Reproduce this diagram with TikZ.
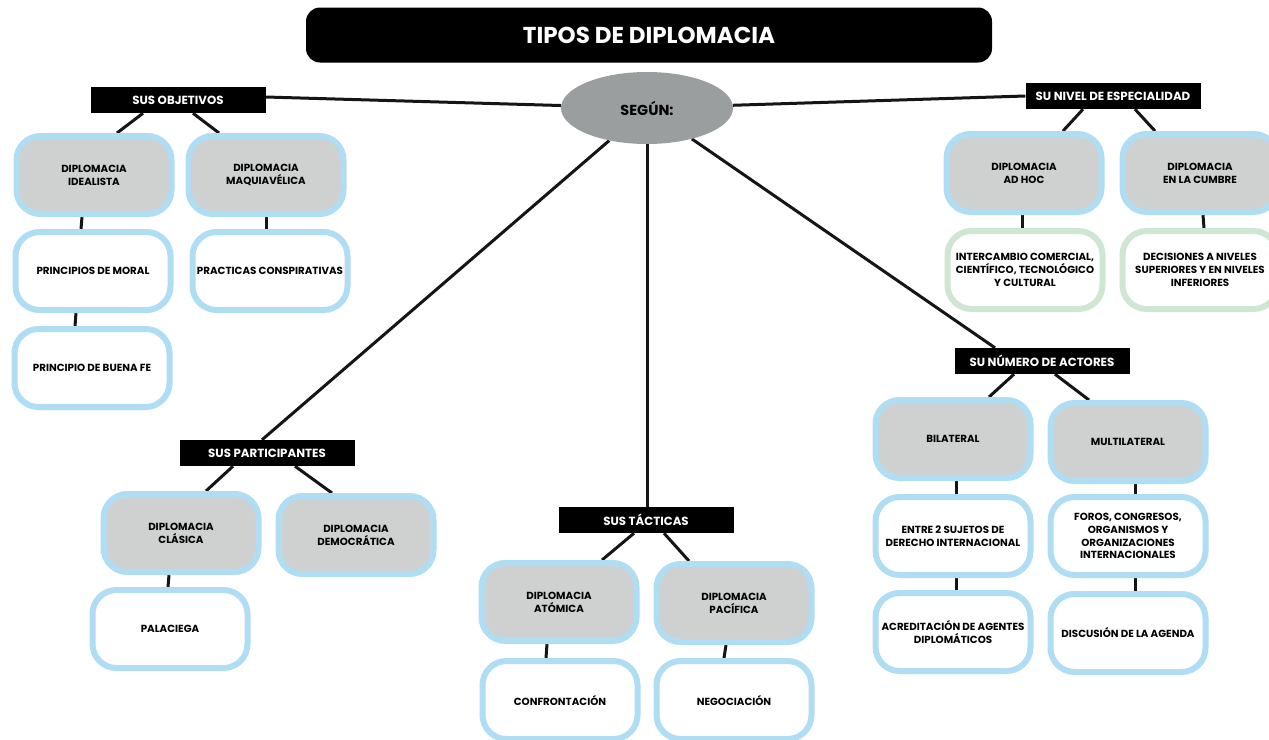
\documentclass[tikz,border=0pt]{standalone}
\usepackage{fontspec}
\setmainfont{Poppins}
\usetikzlibrary{shapes.geometric,backgrounds,calc}

\definecolor{rimblue}{HTML}{AEDDF4}
\definecolor{rimgreen}{HTML}{CFE7D2}
\definecolor{catgray}{HTML}{CFD1D0}
\definecolor{hubgray}{HTML}{9B9E9F}
\definecolor{inkline}{HTML}{151515}

\tikzset{
  titlebar/.style={fill=black, rounded corners=14pt, minimum width=686pt, minimum height=55pt,
    text=white, font=\bfseries\fontsize{23}{27}\selectfont, inner sep=0pt},
  hub/.style={ellipse, fill=hubgray, minimum width=172pt, minimum height=72pt, inner sep=0pt,
    font=\bfseries\fontsize{14.5}{17}\selectfont},
  tag/.style={fill=black, text=white, minimum width=175pt, minimum height=26pt, inner sep=0pt,
    font=\bfseries\fontsize{11.8}{14}\selectfont},
  card/.style={draw=rimblue, line width=6pt, rounded corners=24pt, minimum width=155pt,
    minimum height=78pt, inner sep=0pt, align=center, font=\bfseries\fontsize{10.3}{12.8}\selectfont},
  catbox/.style={card, fill=catgray},
  leafbox/.style={card, fill=white},
  greenbox/.style={card, fill=white, draw=rimgreen},
  link/.style={draw=inkline, line width=3pt}
}

\begin{document}
\begin{tikzpicture}[x=1pt, y=-1pt]
\useasboundingbox (0,0) rectangle (1269,739);

% title and central hub
\node[titlebar] (title) at (649,35) {TIPOS DE DIPLOMACIA};
\node[hub] (segun) at (647,108) {SEGÚN:};

% category tags
\node[tag] (objetivos) at (178,100) {SUS OBJETIVOS};
\node[tag] (nivel) at (1113,96) {SU NIVEL DE ESPECIALIDAD};
\node[tag] (participantes) at (267,453) {SUS PARTICIPANTES};
\node[tag] (tacticas) at (646,520) {SUS TÁCTICAS};
\node[tag] (actores) at (1042,361) {SU NÚMERO DE ACTORES};

% by objectives
\node[catbox] (idealista) at (94,175) {DIPLOMACIA\\IDEALISTA};
\node[catbox] (maquia) at (266,175) {DIPLOMACIA\\MAQUIAVÉLICA};
\node[leafbox] (moral) at (93,271) {PRINCIPIOS DE MORAL};
\node[leafbox] (conspira) at (270,271) {PRACTICAS CONSPIRATIVAS};
\node[leafbox] (buenafe) at (92,368) {PRINCIPIO DE BUENA FE};

% by level of specialisation
\node[catbox] (adhoc) at (1024,173) {DIPLOMACIA\\AD HOC};
\node[catbox] (cumbre) at (1200,173) {DIPLOMACIA\\EN LA CUMBRE};
\node[greenbox] (intercambio) at (1025,270) {INTERCAMBIO COMERCIAL,\\CIENTÍFICO, TECNOLÓGICO\\Y CULTURAL};
\node[greenbox] (decisiones) at (1200,270) {DECISIONES A NIVELES\\SUPERIORES Y EN NIVELES\\INFERIORES};

% by number of actors
\node[catbox] (bilateral) at (953,439) {BILATERAL};
\node[catbox] (multilateral) at (1128,442) {MULTILATERAL};
\node[leafbox] (sujetos) at (953,536) {ENTRE 2 SUJETOS DE\\DERECHO INTERNACIONAL};
\node[leafbox] (foros) at (1128,536) {FOROS, CONGRESOS,\\ORGANISMOS Y\\ORGANIZACIONES\\INTERNACIONALES};
\node[leafbox] (acredita) at (953,632) {ACREDITACIÓN DE AGENTES\\DIPLOMÁTICOS};
\node[leafbox] (agenda) at (1128,633) {DISCUSIÓN DE LA AGENDA};

% by participants
\node[catbox] (clasica) at (181,533) {DIPLOMACIA\\CLÁSICA};
\node[catbox] (democratica) at (356,535) {DIPLOMACIA\\DEMOCRÁTICA};
\node[leafbox] (palaciega) at (170,629) {PALACIEGA};

% by tactics
\node[catbox] (atomica) at (559,602) {DIPLOMACIA\\ATÓMICA};
\node[catbox] (pacifica) at (734,603) {DIPLOMACIA\\PACÍFICA};
\node[leafbox] (confronta) at (560,700) {CONFRONTACIÓN};
\node[leafbox] (negocia) at (734,700) {NEGOCIACIÓN};

% connectors, kept underneath the shapes
\begin{scope}[on background layer]
  \fill[white] (0,0) rectangle (1269,739);
  \draw[link] (segun) -- ([yshift=3pt]objetivos.east);
  \draw[link] (segun) -- (nivel.west);
  \draw[link] (segun) -- ([xshift=-5pt]participantes.north);
  \draw[link] (segun.south) -- ([xshift=1pt]tacticas.north);
  \draw[link] (segun) -- ([xshift=-47pt]actores.north);

  \draw[link] ([xshift=-35pt]objetivos.south) -- ([xshift=23pt]idealista.north);
  \draw[link] ([xshift=15pt]objetivos.south) -- ([xshift=-47pt]maquia.north);
  \draw[link] ([xshift=-12pt]idealista.south) -- ([xshift=-12pt]moral.north);
  \draw[link] (maquia.south) -- ([xshift=-4pt]conspira.north);
  \draw[link] ([xshift=-17pt]moral.south) -- ([xshift=-17pt]buenafe.north);

  \draw[link] ([xshift=-30pt]nivel.south) -- ([xshift=39pt]adhoc.north);
  \draw[link] ([xshift=22pt]nivel.south) -- ([xshift=-45pt]cumbre.north);
  \draw[link] ([xshift=-2pt]adhoc.south) -- ([xshift=-3pt]intercambio.north);
  \draw[link] ([xshift=3pt]cumbre.south) -- ([xshift=4pt]decisiones.north);

  \draw[link] ([xshift=-28pt]actores.south) -- ([xshift=36pt]bilateral.north);
  \draw[link] ([xshift=13pt]actores.south) -- ([xshift=-39pt]multilateral.north);
  \draw[link] ([xshift=3pt]bilateral.south) -- ([xshift=3pt]sujetos.north);
  \draw[link] ([xshift=7pt]multilateral.south) -- ([xshift=7pt]foros.north);
  \draw[link] ([xshift=3pt]sujetos.south) -- ([xshift=3pt]acredita.north);
  \draw[link] ([xshift=7pt]foros.south) -- ([xshift=7pt]agenda.north);

  \draw[link] ([xshift=-34pt]participantes.south) -- ([xshift=25pt]clasica.north);
  \draw[link] ([xshift=28pt]participantes.south) -- ([xshift=-24pt]democratica.north);
  \draw[link] ([xshift=-12pt]clasica.south) -- ([xshift=-2pt]palaciega.north);

  \draw[link] ([xshift=-12pt]tacticas.south) -- ([xshift=43pt]atomica.north);
  \draw[link] ([xshift=18pt]tacticas.south) -- ([xshift=-45pt]pacifica.north);
  \draw[link] ([xshift=-12pt]atomica.south) -- ([xshift=-14pt]confronta.north);
  \draw[link] ([xshift=-8pt]pacifica.south) -- ([xshift=-10pt]negocia.north);
\end{scope}
\end{tikzpicture}
\end{document}
